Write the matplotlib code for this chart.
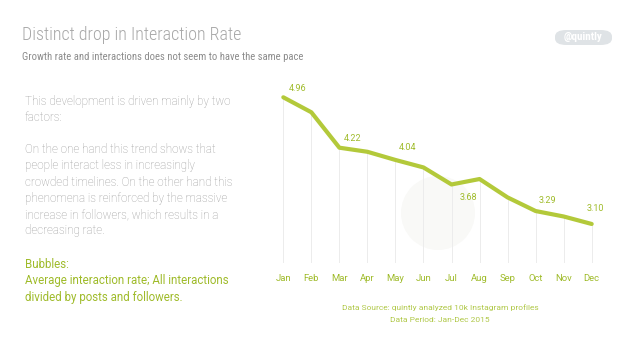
import matplotlib.pyplot as plt
from matplotlib.patches import Ellipse, FancyBboxPatch

months = ['Jan', 'Feb', 'Mar', 'Apr', 'May', 'Jun', 'Jul', 'Aug', 'Sep', 'Oct', 'Nov', 'Dec']
rate = [4.96, 4.74, 4.22, 4.16, 4.04, 3.93, 3.68, 3.76, 3.49, 3.29, 3.21, 3.10]
labelled = ['Jan', 'Mar', 'May', 'Jul', 'Oct', 'Dec']

green = '#b3c93a'
text_green = '#9fbb2a'

plt.rcParams['font.family'] = ['Roboto', 'DejaVu Sans']
cond = ['Roboto Condensed', 'Roboto', 'DejaVu Sans']

fig = plt.figure(figsize=(6.38, 3.59), dpi=100)
W, H = 638, 359

def fx(px):
    return px / W

def fy(py):
    return 1 - py / H

# faint watermark behind the chart
fig.patches.append(Ellipse((fx(438), fy(213)), 74 / W, 74 / H, transform=fig.transFigure,
                           facecolor='#f9f9f7', edgecolor='none', zorder=-1))

ax = fig.add_axes([fx(270), fy(263), fx(605) - fx(270), fy(80) - fy(263)])
ax.patch.set_alpha(0)
x = list(range(len(months)))
ax.plot(x, rate, color=green, lw=3, solid_joinstyle='round', solid_capstyle='round', zorder=3)
ax.vlines(x, 2.527, rate, color='#ececec', lw=0.7, zorder=1)

offsets = {'Jan': (14, 9), 'Mar': (13, 9), 'May': (12, 12), 'Jul': (17, -13),
           'Oct': (12, 11), 'Dec': (4, 15)}
for m, v in zip(months, rate):
    if m in labelled:
        dx, dy = offsets[m]
        ax.annotate(f'{v:.2f}', (months.index(m), v), xytext=(dx, dy),
                    textcoords='offset pixels', ha='center', va='center',
                    fontsize=6.5, color=text_green)

ax.set_xlim(-0.475, 11.475)
ax.set_ylim(2.527, 5.214)
ax.set_xticks(x)
ax.set_xticklabels(months, fontsize=6.8, color=text_green)
ax.tick_params(axis='x', length=0, pad=8)
ax.set_yticks([])
for s in ax.spines.values():
    s.set_visible(False)

# titles
fig.text(fx(22), fy(35), 'Distinct drop in Interaction Rate', fontsize=13,
         family=cond, fontweight='light', color='#a8a8a8', va='center')
fig.text(fx(22), fy(57), 'Growth rate and interactions does not seem to have the same pace',
         fontsize=7.7, family=cond, color='#8c8c8c', va='center')

# badge
fig.patches.append(FancyBboxPatch((fx(555), fy(45)), fx(612) - fx(555), fy(30) - fy(45),
                                  boxstyle='round,pad=0.0,rounding_size=0.018',
                                  transform=fig.transFigure, facecolor='#dfe3e6',
                                  edgecolor='none'))
fig.text(fx(583.5), fy(37.5), '@quintly', fontsize=8, family=cond, color='white',
         fontweight='bold', ha='center', va='center')

# side text
body = ['This development is driven mainly by two', 'factors:', '',
        'On the one hand this trend shows that', 'people interact less in increasingly',
        'crowded timelines. On the other hand this', 'phenomena is reinforced by the massive',
        'increase in followers, which results in a', 'decreasing rate.']
y0 = 101
for i, line in enumerate(body):
    fig.text(fx(25), fy(y0 + i * 16.2), line, fontsize=8.4, fontweight='light',
             color='#9a9a9a', va='center')
bubbles = ['Bubbles:', 'Average interaction rate; All interactions',
           'divided by posts and followers.']
for i, line in enumerate(bubbles):
    fig.text(fx(25), fy(264 + i * 16.5), line, fontsize=8.3, color=text_green, va='center')

fig.text(fx(440), fy(308), 'Data Source: quintly analyzed 10k Instagram profiles',
         fontsize=6.0, color='#b0c848', ha='center', va='center')
fig.text(fx(440), fy(320), 'Data Period: Jan-Dec 2015',
         fontsize=6.0, color='#b0c848', ha='center', va='center')

fig.savefig('out.png', dpi=100)
